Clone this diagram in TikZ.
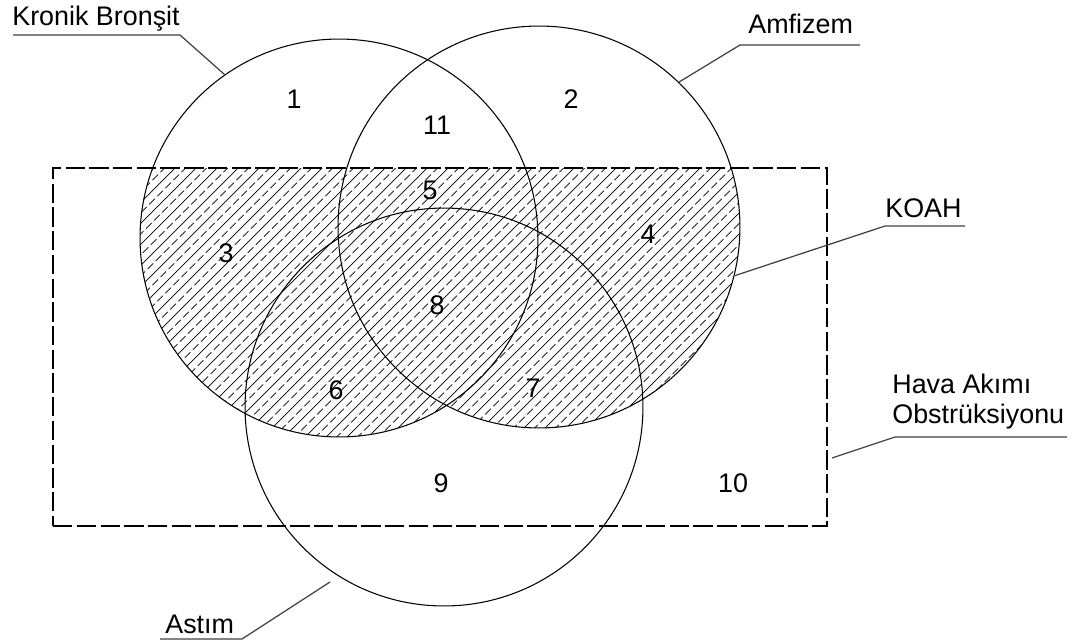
\documentclass[tikz,border=0pt]{standalone}
\usepackage{fontspec}
\setmainfont{Liberation Sans}
\usetikzlibrary{calc}

\begin{document}
\begin{tikzpicture}[
    x=0.02cm, y=-0.02cm,
    font=\fontsize{15.3}{17}\selectfont,
    venn/.style={draw, circle, line width=0.6pt, inner sep=0pt, minimum size=#1},
    frame/.style={draw, line width=0.8pt, dash pattern=on 11pt off 2.5pt, inner sep=0pt},
    lead/.style={draw=black!75, line width=0.7pt},
    hatch/.style={line width=0.4pt},
    hatchd/.style={line width=0.4pt, dash pattern=on 4.5pt off 2pt},
    num/.style={inner sep=1pt},
    lbl/.style={anchor=base west, inner sep=0pt, align=left},
]
\useasboundingbox (0,0) rectangle (1075,643);

% ── Hatched area (KOAH) ──────────────────────────────────────
\begin{scope}
    \clip (53,168) rectangle (827,526);
    \clip (339,238) circle [radius=3.98cm] (539,227) circle [radius=4.02cm];
    \foreach \c in {280,301,...,1220} \draw[hatch] (\c-600,600) -- (\c,0);
    \foreach \c in {290.5,311.5,...,1220} \draw[hatchd] (\c-600,600) -- (\c,0);
\end{scope}

% ── Circles and frame ────────────────────────────────────────
\node[venn=7.96cm] (kb) at (339,238) {};
\node[venn=8.04cm] (amf) at (539,227) {};
\node[venn=7.96cm] (ast) at (444,407) {};
\node[frame, minimum width=15.48cm, minimum height=7.16cm] (hao) at (440,347) {};

% ── Region numbers ───────────────────────────────────────────
\node[num] (r1) at (294,99) {1};
\node[num] (r2) at (571,99) {2};
\node[num] (r11) at (437,125) {11};
\node[num] (r5) at (430,190) {5};
\node[num] (r3) at (226,253) {3};
\node[num] (r4) at (648,234) {4};
\node[num] (r8) at (437,305) {8};
\node[num] (r6) at (336,390) {6};
\node[num] (r7) at (533,388) {7};
\node[num] (r9) at (441,483) {9};
\node[num] (r10) at (733,483) {10};

% ── Labels ───────────────────────────────────────────────────
\node[lbl] (kbtxt) at (12,25) {Kronik Bronşit};
\coordinate (kbu1) at (13,35);
\coordinate (kbu2) at (180,35);
\draw[lead] (kbu1) -- (kbu2) -- (kb.125);

\node[lbl] (amftxt) at (748,33) {Amfizem};
\coordinate (amfu1) at (740,45);
\coordinate (amfu2) at (860,45);
\draw[lead] (amfu2) -- (amfu1) -- (amf.46);

\node[lbl] (koahtxt) at (885,217) {KOAH};
\coordinate (koahu1) at (885,226);
\coordinate (koahu2) at (965,226);
\draw[lead] (koahu2) -- (koahu1) -- (amf.-14);

\node[lbl] (haotxt) at (892,423) {Hava Akımı\\Obstrüksiyonu};
\coordinate (haou1) at (895,437);
\coordinate (haou2) at (1067,437);
\coordinate (haoend) at (832,458);
\draw[lead] (haou2) -- (haou1) -- (haoend);

\node[lbl] (asttxt) at (165,633) {Astım};
\coordinate (astu1) at (160,639);
\coordinate (astu2) at (242,639);
\coordinate (astend) at (330,582);
\draw[lead] (astu1) -- (astu2) -- (astend);

\end{tikzpicture}
\end{document}
